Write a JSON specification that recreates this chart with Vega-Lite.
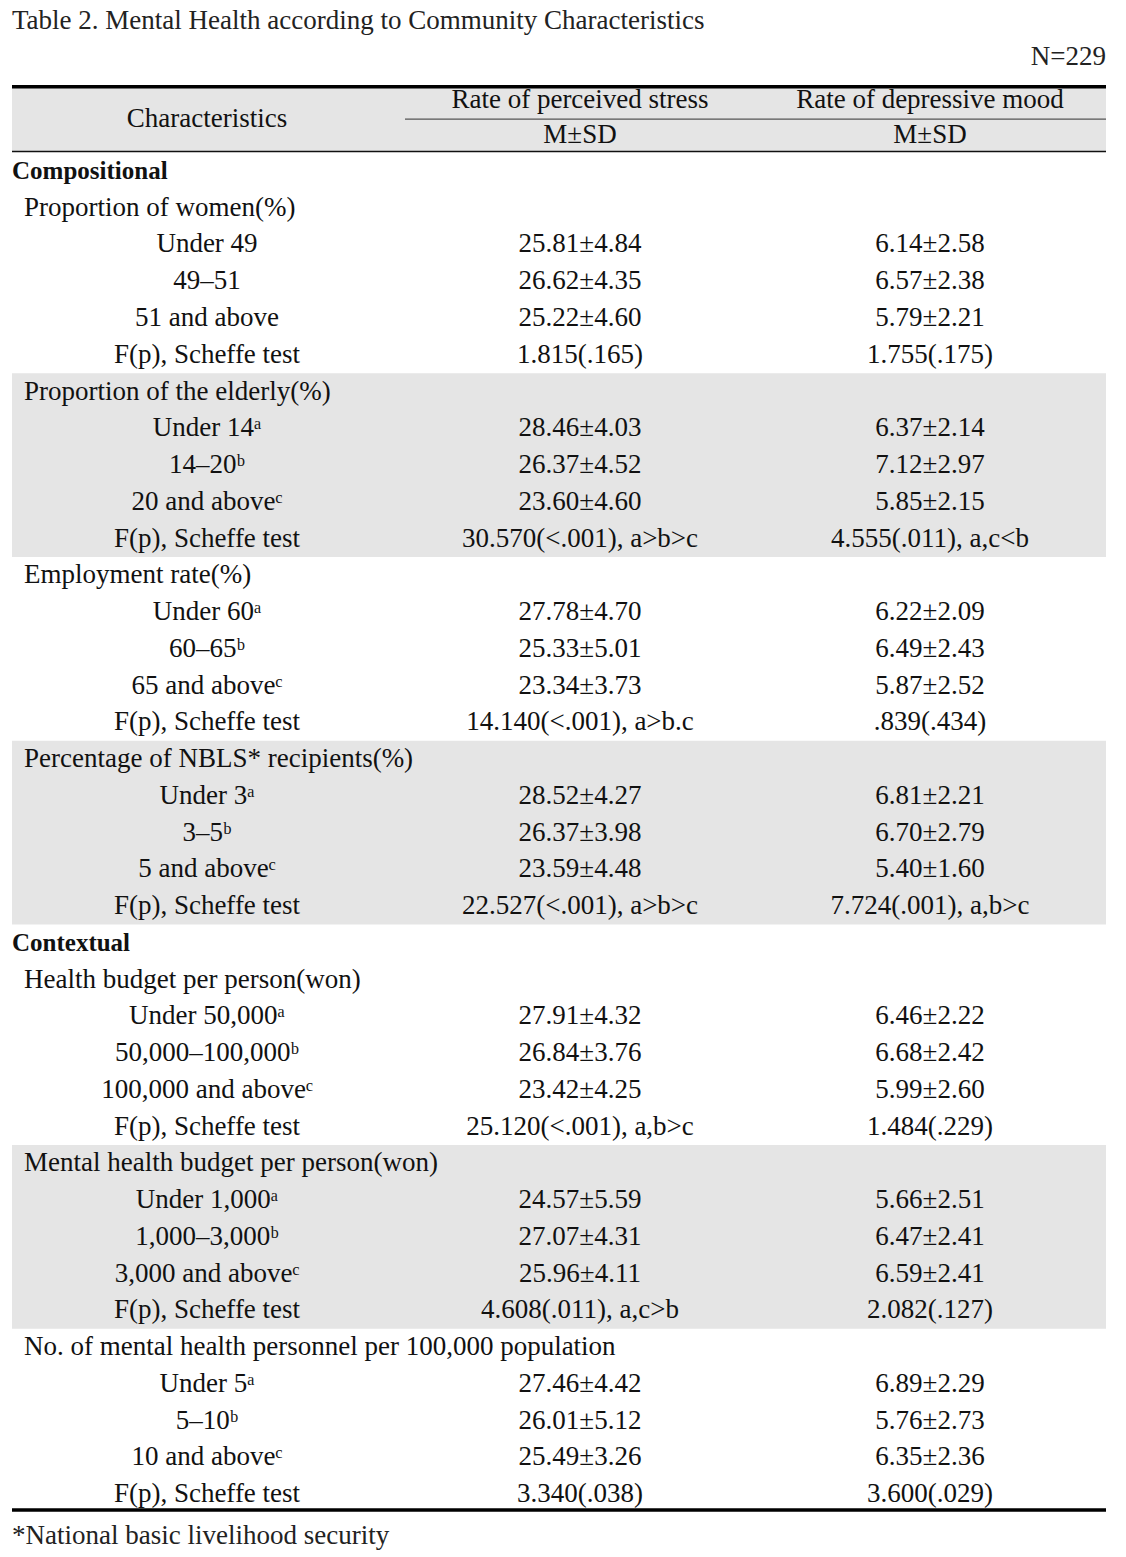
{
  "$schema": "https://vega.github.io/schema/vega-lite/v6.json",
  "width": 1126,
  "height": 1557,
  "padding": 0,
  "autosize": "none",
  "background": "white",
  "config": {
    "view": {"stroke": null},
    "text": {"font": "Liberation Serif", "fontSize": 27, "color": "#111", "baseline": "middle"}
  },
  "datasets": {
    "bands": [
      {"top": -2.27, "bottom": -0.52, "from": 0, "to": 6},
      {"top": 5.5, "bottom": 10.5, "from": 0, "to": 6},
      {"top": 15.5, "bottom": 20.5, "from": 0, "to": 6},
      {"top": 26.5, "bottom": 31.5, "from": 0, "to": 6}
    ],
    "rules": [
      {"row": -2.294, "from": 0, "to": 6, "weight": "heavy"},
      {"row": -1.41, "from": 3, "to": 6, "weight": "hair"},
      {"row": -0.53, "from": 0, "to": 6, "weight": "light"},
      {"row": 36.435, "from": 0, "to": 6, "weight": "heavy"}
    ],
    "cells": [
      {"row": -4.07, "slot": 0, "kind": "title", "text": "Table 2. Mental Health according to Community Characteristics"},
      {"row": -3.1, "slot": 6, "kind": "n", "text": "N=229"},
      {"row": -1.415, "slot": 2, "kind": "head", "text": "Characteristics"},
      {"row": -1.93, "slot": 4, "kind": "head", "text": "Rate of perceived stress"},
      {"row": -1.93, "slot": 5, "kind": "head", "text": "Rate of depressive mood"},
      {"row": -0.966, "slot": 4, "kind": "head", "text": "M±SD"},
      {"row": -0.966, "slot": 5, "kind": "head", "text": "M±SD"},

      {"row": 0, "slot": 0, "kind": "group", "text": "Compositional"},
      {"row": 1, "slot": 1, "kind": "sub", "text": "Proportion of women(%)"},
      {"row": 2, "slot": 2, "kind": "cell", "text": "Under 49"},
      {"row": 2, "slot": 4, "kind": "cell", "text": "25.81±4.84"},
      {"row": 2, "slot": 5, "kind": "cell", "text": "6.14±2.58"},
      {"row": 3, "slot": 2, "kind": "cell", "text": "49–51"},
      {"row": 3, "slot": 4, "kind": "cell", "text": "26.62±4.35"},
      {"row": 3, "slot": 5, "kind": "cell", "text": "6.57±2.38"},
      {"row": 4, "slot": 2, "kind": "cell", "text": "51 and above"},
      {"row": 4, "slot": 4, "kind": "cell", "text": "25.22±4.60"},
      {"row": 4, "slot": 5, "kind": "cell", "text": "5.79±2.21"},
      {"row": 5, "slot": 2, "kind": "cell", "text": "F(p), Scheffe test"},
      {"row": 5, "slot": 4, "kind": "cell", "text": "1.815(.165)"},
      {"row": 5, "slot": 5, "kind": "cell", "text": "1.755(.175)"},

      {"row": 6, "slot": 1, "kind": "sub", "text": "Proportion of the elderly(%)"},
      {"row": 7, "slot": 2, "kind": "cell", "text": "Under 14ᵃ"},
      {"row": 7, "slot": 4, "kind": "cell", "text": "28.46±4.03"},
      {"row": 7, "slot": 5, "kind": "cell", "text": "6.37±2.14"},
      {"row": 8, "slot": 2, "kind": "cell", "text": "14–20ᵇ"},
      {"row": 8, "slot": 4, "kind": "cell", "text": "26.37±4.52"},
      {"row": 8, "slot": 5, "kind": "cell", "text": "7.12±2.97"},
      {"row": 9, "slot": 2, "kind": "cell", "text": "20 and aboveᶜ"},
      {"row": 9, "slot": 4, "kind": "cell", "text": "23.60±4.60"},
      {"row": 9, "slot": 5, "kind": "cell", "text": "5.85±2.15"},
      {"row": 10, "slot": 2, "kind": "cell", "text": "F(p), Scheffe test"},
      {"row": 10, "slot": 4, "kind": "cell", "text": "30.570(<.001), a>b>c"},
      {"row": 10, "slot": 5, "kind": "cell", "text": "4.555(.011), a,c<b"},

      {"row": 11, "slot": 1, "kind": "sub", "text": "Employment rate(%)"},
      {"row": 12, "slot": 2, "kind": "cell", "text": "Under 60ᵃ"},
      {"row": 12, "slot": 4, "kind": "cell", "text": "27.78±4.70"},
      {"row": 12, "slot": 5, "kind": "cell", "text": "6.22±2.09"},
      {"row": 13, "slot": 2, "kind": "cell", "text": "60–65ᵇ"},
      {"row": 13, "slot": 4, "kind": "cell", "text": "25.33±5.01"},
      {"row": 13, "slot": 5, "kind": "cell", "text": "6.49±2.43"},
      {"row": 14, "slot": 2, "kind": "cell", "text": "65 and aboveᶜ"},
      {"row": 14, "slot": 4, "kind": "cell", "text": "23.34±3.73"},
      {"row": 14, "slot": 5, "kind": "cell", "text": "5.87±2.52"},
      {"row": 15, "slot": 2, "kind": "cell", "text": "F(p), Scheffe test"},
      {"row": 15, "slot": 4, "kind": "cell", "text": "14.140(<.001), a>b.c"},
      {"row": 15, "slot": 5, "kind": "cell", "text": ".839(.434)"},

      {"row": 16, "slot": 1, "kind": "sub", "text": "Percentage of NBLS* recipients(%)"},
      {"row": 17, "slot": 2, "kind": "cell", "text": "Under 3ᵃ"},
      {"row": 17, "slot": 4, "kind": "cell", "text": "28.52±4.27"},
      {"row": 17, "slot": 5, "kind": "cell", "text": "6.81±2.21"},
      {"row": 18, "slot": 2, "kind": "cell", "text": "3–5ᵇ"},
      {"row": 18, "slot": 4, "kind": "cell", "text": "26.37±3.98"},
      {"row": 18, "slot": 5, "kind": "cell", "text": "6.70±2.79"},
      {"row": 19, "slot": 2, "kind": "cell", "text": "5 and aboveᶜ"},
      {"row": 19, "slot": 4, "kind": "cell", "text": "23.59±4.48"},
      {"row": 19, "slot": 5, "kind": "cell", "text": "5.40±1.60"},
      {"row": 20, "slot": 2, "kind": "cell", "text": "F(p), Scheffe test"},
      {"row": 20, "slot": 4, "kind": "cell", "text": "22.527(<.001), a>b>c"},
      {"row": 20, "slot": 5, "kind": "cell", "text": "7.724(.001), a,b>c"},

      {"row": 21, "slot": 0, "kind": "group", "text": "Contextual"},
      {"row": 22, "slot": 1, "kind": "sub", "text": "Health budget per person(won)"},
      {"row": 23, "slot": 2, "kind": "cell", "text": "Under 50,000ᵃ"},
      {"row": 23, "slot": 4, "kind": "cell", "text": "27.91±4.32"},
      {"row": 23, "slot": 5, "kind": "cell", "text": "6.46±2.22"},
      {"row": 24, "slot": 2, "kind": "cell", "text": "50,000–100,000ᵇ"},
      {"row": 24, "slot": 4, "kind": "cell", "text": "26.84±3.76"},
      {"row": 24, "slot": 5, "kind": "cell", "text": "6.68±2.42"},
      {"row": 25, "slot": 2, "kind": "cell", "text": "100,000 and aboveᶜ"},
      {"row": 25, "slot": 4, "kind": "cell", "text": "23.42±4.25"},
      {"row": 25, "slot": 5, "kind": "cell", "text": "5.99±2.60"},
      {"row": 26, "slot": 2, "kind": "cell", "text": "F(p), Scheffe test"},
      {"row": 26, "slot": 4, "kind": "cell", "text": "25.120(<.001), a,b>c"},
      {"row": 26, "slot": 5, "kind": "cell", "text": "1.484(.229)"},

      {"row": 27, "slot": 1, "kind": "sub", "text": "Mental health budget per person(won)"},
      {"row": 28, "slot": 2, "kind": "cell", "text": "Under 1,000ᵃ"},
      {"row": 28, "slot": 4, "kind": "cell", "text": "24.57±5.59"},
      {"row": 28, "slot": 5, "kind": "cell", "text": "5.66±2.51"},
      {"row": 29, "slot": 2, "kind": "cell", "text": "1,000–3,000ᵇ"},
      {"row": 29, "slot": 4, "kind": "cell", "text": "27.07±4.31"},
      {"row": 29, "slot": 5, "kind": "cell", "text": "6.47±2.41"},
      {"row": 30, "slot": 2, "kind": "cell", "text": "3,000 and aboveᶜ"},
      {"row": 30, "slot": 4, "kind": "cell", "text": "25.96±4.11"},
      {"row": 30, "slot": 5, "kind": "cell", "text": "6.59±2.41"},
      {"row": 31, "slot": 2, "kind": "cell", "text": "F(p), Scheffe test"},
      {"row": 31, "slot": 4, "kind": "cell", "text": "4.608(.011), a,c>b"},
      {"row": 31, "slot": 5, "kind": "cell", "text": "2.082(.127)"},

      {"row": 32, "slot": 1, "kind": "sub", "text": "No. of mental health personnel per 100,000 population"},
      {"row": 33, "slot": 2, "kind": "cell", "text": "Under 5ᵃ"},
      {"row": 33, "slot": 4, "kind": "cell", "text": "27.46±4.42"},
      {"row": 33, "slot": 5, "kind": "cell", "text": "6.89±2.29"},
      {"row": 34, "slot": 2, "kind": "cell", "text": "5–10ᵇ"},
      {"row": 34, "slot": 4, "kind": "cell", "text": "26.01±5.12"},
      {"row": 34, "slot": 5, "kind": "cell", "text": "5.76±2.73"},
      {"row": 35, "slot": 2, "kind": "cell", "text": "10 and aboveᶜ"},
      {"row": 35, "slot": 4, "kind": "cell", "text": "25.49±3.26"},
      {"row": 35, "slot": 5, "kind": "cell", "text": "6.35±2.36"},
      {"row": 36, "slot": 2, "kind": "cell", "text": "F(p), Scheffe test"},
      {"row": 36, "slot": 4, "kind": "cell", "text": "3.340(.038)"},
      {"row": 36, "slot": 5, "kind": "cell", "text": "3.600(.029)"},

      {"row": 37.14, "slot": 0, "kind": "note", "text": "*National basic livelihood security"}
    ]
  },
  "layer": [
    {
      "data": {"name": "bands"},
      "mark": {"type": "rect", "color": "#e5e5e5"},
      "encoding": {
        "x": {"field": "from", "type": "quantitative", "axis": null, "scale": {"type": "linear", "domain": [0, 1, 2, 3, 4, 5, 6], "range": [12, 24, 207, 405, 580, 930, 1106], "nice": false, "zero": false}},
        "x2": {"field": "to"},
        "y": {"field": "top", "type": "quantitative", "axis": null, "scale": {"type": "linear", "domain": [-4.653, 37.714], "reverse": true, "nice": false, "zero": false}},
        "y2": {"field": "bottom"}
      }
    },
    {
      "data": {"name": "rules"},
      "transform": [{"filter": "datum.weight == 'hair'"}],
      "mark": {"type": "rule", "strokeWidth": 1.2, "color": "#555"},
      "encoding": {
        "x": {"field": "from", "type": "quantitative", "axis": null},
        "x2": {"field": "to"},
        "y": {"field": "row", "type": "quantitative", "axis": null}
      }
    },
    {
      "data": {"name": "rules"},
      "transform": [{"filter": "datum.weight == 'light'"}],
      "mark": {"type": "rule", "strokeWidth": 1.6, "color": "#111"},
      "encoding": {
        "x": {"field": "from", "type": "quantitative", "axis": null},
        "x2": {"field": "to"},
        "y": {"field": "row", "type": "quantitative", "axis": null}
      }
    },
    {
      "data": {"name": "rules"},
      "transform": [{"filter": "datum.weight == 'heavy'"}],
      "mark": {"type": "rule", "strokeWidth": 3.4, "color": "#000"},
      "encoding": {
        "x": {"field": "from", "type": "quantitative", "axis": null},
        "x2": {"field": "to"},
        "y": {"field": "row", "type": "quantitative", "axis": null}
      }
    },
    {
      "data": {"name": "cells"},
      "transform": [{"filter": "datum.kind == 'cell' || datum.kind == 'head'"}],
      "mark": {"type": "text", "align": "center"},
      "encoding": {
        "x": {"field": "slot", "type": "quantitative", "axis": null},
        "y": {"field": "row", "type": "quantitative", "axis": null},
        "text": {"field": "text"}
      }
    },
    {
      "data": {"name": "cells"},
      "transform": [{"filter": "datum.kind == 'sub'"}],
      "mark": {"type": "text", "align": "left"},
      "encoding": {
        "x": {"field": "slot", "type": "quantitative", "axis": null},
        "y": {"field": "row", "type": "quantitative", "axis": null},
        "text": {"field": "text"}
      }
    },
    {
      "data": {"name": "cells"},
      "transform": [{"filter": "datum.kind == 'group'"}],
      "mark": {"type": "text", "align": "left", "fontWeight": "bold", "fontSize": 25},
      "encoding": {
        "x": {"field": "slot", "type": "quantitative", "axis": null},
        "y": {"field": "row", "type": "quantitative", "axis": null},
        "text": {"field": "text"}
      }
    },
    {
      "data": {"name": "cells"},
      "transform": [{"filter": "datum.kind == 'title' || datum.kind == 'note'"}],
      "mark": {"type": "text", "align": "left", "color": "#222"},
      "encoding": {
        "x": {"field": "slot", "type": "quantitative", "axis": null},
        "y": {"field": "row", "type": "quantitative", "axis": null},
        "text": {"field": "text"}
      }
    },
    {
      "data": {"name": "cells"},
      "transform": [{"filter": "datum.kind == 'n'"}],
      "mark": {"type": "text", "align": "right", "color": "#222"},
      "encoding": {
        "x": {"field": "slot", "type": "quantitative", "axis": null},
        "y": {"field": "row", "type": "quantitative", "axis": null},
        "text": {"field": "text"}
      }
    }
  ]
}
